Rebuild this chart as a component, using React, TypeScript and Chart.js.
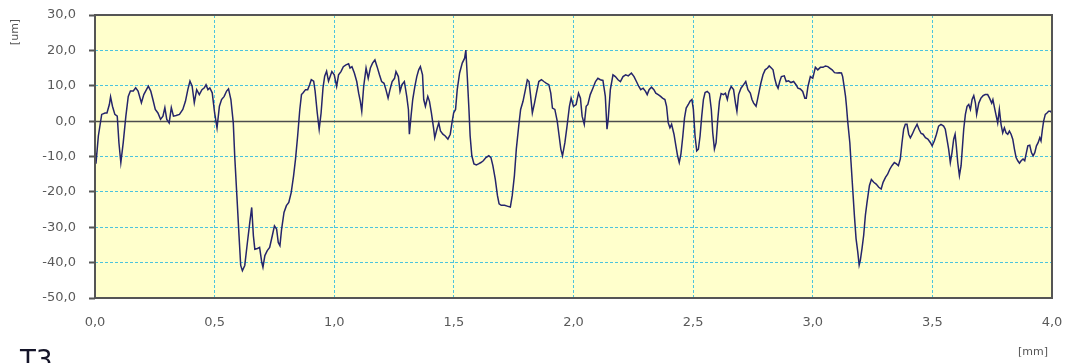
import React, { useEffect, useRef } from "react";
import { Chart, registerables } from "chart.js";

Chart.register(...registerables);

// Profile position along the trace [mm]
const positionMm: number[] = [
  0.000, 0.004, 0.014, 0.028, 0.042, 0.050, 0.060, 0.065, 0.073, 0.083, 0.093, 0.100, 0.108, 0.118, 0.129, 0.139,
  0.148, 0.160, 0.170, 0.180, 0.194, 0.204, 0.215, 0.223, 0.233, 0.242, 0.252, 0.263, 0.274, 0.284, 0.292, 0.300,
  0.310, 0.319, 0.328, 0.339, 0.353, 0.367, 0.378, 0.388, 0.397, 0.406, 0.415, 0.425, 0.436, 0.447, 0.457, 0.464,
  0.472, 0.480, 0.490, 0.500, 0.510, 0.520, 0.529, 0.540, 0.550, 0.558, 0.568, 0.578, 0.584, 0.593, 0.602, 0.609,
  0.616, 0.626, 0.637, 0.647, 0.655, 0.662, 0.668, 0.679, 0.688, 0.697, 0.702, 0.710, 0.720, 0.730, 0.741, 0.750,
  0.759, 0.766, 0.773, 0.780, 0.790, 0.800, 0.810, 0.820, 0.830, 0.838, 0.847, 0.856, 0.863, 0.870, 0.880, 0.889,
  0.897, 0.904, 0.914, 0.920, 0.929, 0.937, 0.945, 0.953, 0.960, 0.968, 0.976,
  0.990, 1.000, 1.010, 1.018, 1.028, 1.038, 1.049, 1.060, 1.066, 1.074, 1.084, 1.094, 1.102, 1.109, 1.115, 1.123,
  1.133, 1.142, 1.151, 1.160, 1.170, 1.179, 1.189, 1.198, 1.208, 1.216, 1.225, 1.233, 1.242, 1.252, 1.258, 1.268,
  1.275, 1.283, 1.293, 1.303, 1.310, 1.314, 1.321, 1.328, 1.337, 1.345, 1.353, 1.360, 1.369, 1.374, 1.381, 1.391,
  1.398, 1.406, 1.415, 1.420, 1.429, 1.437, 1.444, 1.454, 1.464, 1.475, 1.485, 1.492, 1.499, 1.507, 1.514, 1.524,
  1.535, 1.545, 1.550, 1.556, 1.563, 1.568, 1.575, 1.584, 1.594, 1.603, 1.613, 1.623, 1.634, 1.646, 1.655, 1.663,
  1.673, 1.682, 1.689, 1.698, 1.712, 1.726, 1.736, 1.744, 1.753, 1.761, 1.771, 1.779, 1.789, 1.799, 1.807, 1.814,
  1.821, 1.828, 1.837, 1.845, 1.855, 1.866, 1.876, 1.887, 1.897, 1.905, 1.912, 1.922, 1.932, 1.940, 1.947, 1.954,
  1.964, 1.973,
  1.983, 1.990, 2.000, 2.011, 2.021, 2.029, 2.036, 2.045, 2.053, 2.060, 2.070, 2.081, 2.092, 2.102, 2.112, 2.123,
  2.133, 2.140, 2.145, 2.154, 2.165, 2.175, 2.186, 2.196, 2.207, 2.218, 2.229, 2.242, 2.253, 2.263, 2.273, 2.281,
  2.291, 2.301, 2.308, 2.316, 2.326, 2.336, 2.344, 2.354, 2.364, 2.372, 2.382, 2.389, 2.396, 2.403, 2.410, 2.420,
  2.428, 2.435, 2.442, 2.449, 2.457, 2.464, 2.471, 2.480, 2.487, 2.495, 2.501, 2.508, 2.515, 2.522, 2.529, 2.536,
  2.543, 2.550, 2.559, 2.568, 2.576, 2.582, 2.589, 2.596, 2.603, 2.610, 2.617, 2.627, 2.635, 2.643, 2.650, 2.659,
  2.669, 2.677, 2.683, 2.690, 2.700, 2.711, 2.720, 2.729, 2.739, 2.746, 2.753, 2.763, 2.769, 2.776, 2.783, 2.792,
  2.801, 2.811, 2.818, 2.827, 2.834, 2.841, 2.848, 2.855, 2.862, 2.869, 2.881, 2.889, 2.899, 2.909, 2.920, 2.930,
  2.938, 2.948, 2.958, 2.967, 2.973, 2.980,
  2.990, 3.000, 3.011, 3.021, 3.032, 3.043, 3.053, 3.063, 3.071, 3.081, 3.091, 3.102, 3.111, 3.120, 3.125, 3.130,
  3.137, 3.141, 3.146, 3.155, 3.160, 3.167, 3.174, 3.181, 3.188, 3.194, 3.199, 3.206, 3.213, 3.220, 3.227, 3.237,
  3.245, 3.255, 3.265, 3.276, 3.286, 3.294, 3.304, 3.313, 3.322, 3.331, 3.341, 3.350, 3.358, 3.366, 3.373, 3.380,
  3.387, 3.394, 3.401, 3.408, 3.416, 3.425, 3.436, 3.444, 3.453, 3.461, 3.471, 3.481, 3.492, 3.499, 3.508, 3.517,
  3.526, 3.536, 3.547, 3.554, 3.561, 3.568, 3.575, 3.582, 3.589, 3.595, 3.600, 3.606, 3.613, 3.620, 3.625, 3.631,
  3.638, 3.645, 3.652, 3.659, 3.666, 3.673, 3.680, 3.685, 3.694, 3.703, 3.712, 3.721, 3.731, 3.739, 3.748, 3.753,
  3.760, 3.767, 3.773, 3.780, 3.787, 3.794, 3.801, 3.808, 3.815, 3.822, 3.829, 3.836, 3.843, 3.850, 3.857, 3.864,
  3.871, 3.879, 3.886, 3.893, 3.899, 3.907, 3.914, 3.921, 3.928, 3.935, 3.942, 3.949, 3.954, 3.960, 3.965, 3.972,
  3.979, 3.986, 3.993, 4.000,
];

// Surface height at each position [um]
const heightUm: number[] = [
  -9.0, -12.0, -4.2, 1.9, 2.3, 2.3, 4.7, 6.9, 4.2, 1.9, 1.4, -6.1, -11.7, -6.1, 1.4, 7.0,
  8.5, 8.5, 9.4, 8.5, 5.2, 7.5, 8.9, 9.9, 8.5, 6.1, 3.3, 2.3, 0.5, 1.4, 3.8, 0.5,
  -0.5, 3.8, 1.4, 1.6, 1.9, 3.3, 5.6, 8.9, 11.3, 9.9, 5.2, 8.9, 7.5, 8.9, 9.4, 10.3,
  8.9, 9.4, 8.0, 2.3, -1.9, 4.2, 6.1, 7.0, 8.5, 9.1, 6.1, -0.5, -9.9, -21.1, -32.4, -40.8,
  -42.3, -40.8, -34.3, -28.6, -24.4, -32.4, -36.2, -36.0, -35.7, -39.9, -41.3, -38.0, -36.6, -35.7, -32.4, -29.6,
  -30.5, -34.3, -35.2, -30.5, -25.8, -23.9, -23.0, -20.2, -15.5, -10.8, -4.2, 3.3, 7.5, 8.0, 8.9, 8.9,
  10.3, 11.7, 11.3, 8.5, 2.3, -2.3, 2.3, 9.4, 12.7, 14.1, 11.3,
  14.0, 13.1, 9.8, 13.1, 14.0, 15.4, 15.9, 16.2, 15.0, 15.4, 13.6, 11.2, 7.9, 5.6, 2.8, 9.8,
  15.0, 12.1, 15.0, 16.4, 17.3, 15.4, 13.1, 11.2, 10.7, 8.9, 6.5, 8.9, 11.2, 12.1, 14.0, 12.6,
  8.4, 10.3, 11.2, 7.0, 3.3, -3.7, 1.4, 6.1, 9.8, 12.6, 14.5, 15.4, 13.1, 6.1, 4.2, 7.0,
  5.6, 2.3, -1.9, -4.7, -2.3, -0.5, -2.8, -3.7, -4.2, -5.1, -3.7, -0.5, 2.3, 3.3, 8.9, 13.6,
  16.4, 17.8, 20.1, 12.6, 3.3, -4.2, -9.8, -12.1, -12.4, -12.1, -11.7, -11.2, -10.3, -9.8, -10.3, -12.6,
  -16.4, -21.0, -23.4, -23.8, -23.8, -24.1, -24.3, -21.0, -15.4, -7.9, -1.4, 3.3, 5.6, 8.9, 11.7, 11.2,
  7.0, 2.3, 5.1, 7.9, 11.2, 11.7, 11.2, 10.7, 10.3, 7.9, 3.7, 3.3, 0.0, -4.2, -7.9, -9.8,
  -6.1, -1.4,
  4.2, 6.5, 4.2, 4.7, 7.9, 6.5, 1.4, -0.9, 4.2, 4.7, 7.5, 9.3, 11.2, 12.1, 11.7, 11.5,
  7.0, -2.3, 0.5, 8.9, 13.1, 12.6, 11.7, 11.2, 12.6, 13.1, 12.8, 13.6, 12.6, 11.2, 9.8, 8.9,
  9.3, 8.4, 7.5, 8.9, 9.6, 8.9, 7.9, 7.5, 7.0, 6.5, 6.1, 4.2, -0.5, -1.9, -0.9, -3.7,
  -7.0, -9.8, -11.7, -9.3, -4.2, 0.9, 3.7, 4.7, 5.6, 6.1, 3.3, -4.2, -8.4, -7.9, -4.2, 1.4,
  6.1, 8.1, 8.4, 7.8, 3.3, -3.3, -7.9, -6.1, 0.5, 5.6, 7.8, 7.5, 7.9, 6.1, 8.4, 9.8,
  8.9, 5.1, 2.8, 7.5, 9.3, 10.3, 11.2, 8.9, 7.9, 6.1, 5.1, 4.2, 6.1, 8.4, 10.7, 13.1,
  14.5, 15.0, 15.6, 15.0, 14.5, 12.1, 10.3, 9.3, 11.2, 12.6, 12.8, 11.2, 11.4, 10.9, 11.2, 10.3,
  9.3, 9.1, 8.4, 6.5, 6.5, 9.8,
  12.6, 12.1, 15.2, 14.5, 15.2, 15.2, 15.6, 15.4, 15.0, 14.5, 13.7, 13.6, 13.7, 13.6, 12.6, 10.3,
  7.0, 4.2, 0.0, -6.1, -11.7, -19.2, -26.6, -33.2, -36.9, -40.7, -39.3, -36.0, -32.2, -26.6, -22.9, -18.2,
  -16.5, -17.3, -17.8, -18.7, -19.2, -17.3, -15.9, -15.0, -13.6, -12.6, -11.7, -12.1, -12.6, -10.7, -6.1, -2.3,
  -0.9, -0.9, -3.7, -4.7, -3.7, -2.3, -0.9, -2.3, -3.5, -3.7, -4.7, -5.1, -6.1, -7.0, -5.6, -3.7,
  -1.4, -0.9, -1.4, -2.3, -5.1, -7.9, -11.7, -8.9, -5.1, -3.7, -7.0, -11.7, -15.4, -12.6, -7.9, -2.3,
  1.9, 4.2, 4.7, 3.3, 6.1, 7.2, 5.1, 1.9, 5.1, 6.5, 7.2, 7.5, 7.5, 6.5, 5.1, 6.1,
  3.7, 1.4, -0.5, 3.3, -0.9, -3.3, -1.9, -3.3, -3.7, -2.8, -3.7, -5.1, -7.9, -10.3, -11.2, -11.9,
  -11.2, -10.7, -11.2, -8.9, -7.0, -6.8, -8.9, -9.8, -8.9, -7.0, -6.1, -4.7, -5.6, -2.3, 0.0, 1.9,
  2.3, 2.8, 2.8, 2.3,
];

// Axis ranges and tick spacing
const xRange: number[] = [0, 4];
const xStep = 0.5;
const yRange: number[] = [-50, 30];
const yStep = 10;

const xUnit = "[mm]";
const yUnit = "[um]";
const caption = "T3";

const decimalComma = (v: number | string) => Number(v).toFixed(1).replace(".", ",");

// Keep the plot frame fixed: drop the extra room Chart.js reserves for edge labels
const fixScale = (size: "width" | "height", value: number) => (scale: any) => {
  scale[size] = value;
  scale.paddingLeft = 0;
  scale.paddingRight = 0;
  scale.paddingTop = 0;
  scale.paddingBottom = 0;
};

const profilePlugin = {
  id: "profileDecor",
  beforeDraw(chart: any) {
    const { ctx, chartArea } = chart;
    ctx.save();
    ctx.fillStyle = "#ffffff";
    ctx.fillRect(0, 0, chart.width, chart.height);
    ctx.fillStyle = "#ffffcc";
    ctx.fillRect(chartArea.left, chartArea.top, chartArea.right - chartArea.left, chartArea.bottom - chartArea.top);
    ctx.restore();
  },
  beforeDatasetsDraw(chart: any) {
    // solid reference line at zero height
    const { ctx, chartArea, scales } = chart;
    const y0 = Math.round(scales.y.getPixelForValue(0)) + 0.5;
    ctx.save();
    ctx.strokeStyle = "#4d4d4d";
    ctx.lineWidth = 1.5;
    ctx.beginPath();
    ctx.moveTo(chartArea.left, y0);
    ctx.lineTo(chartArea.right, y0);
    ctx.stroke();
    ctx.restore();
  },
  afterDatasetsDraw(chart: any) {
    const { ctx, chartArea } = chart;
    ctx.save();
    ctx.strokeStyle = "#555555";
    ctx.lineWidth = 2;
    ctx.strokeRect(chartArea.left, chartArea.top, chartArea.right - chartArea.left, chartArea.bottom - chartArea.top);
    ctx.restore();
  },
  afterDraw(chart: any) {
    const { ctx, chartArea } = chart;
    ctx.save();
    ctx.fillStyle = "#555555";
    ctx.font = "11px 'DejaVu Sans'";
    ctx.textAlign = "center";
    ctx.textBaseline = "middle";
    // vertical unit label
    ctx.save();
    ctx.translate(15, chartArea.top + 17);
    ctx.rotate(-Math.PI / 2);
    ctx.fillText(yUnit, 0, 0);
    ctx.restore();
    // horizontal unit label
    ctx.fillText(xUnit, chartArea.right - 19, chartArea.bottom + 54);
    // caption below the chart
    ctx.fillStyle = "#141428";
    ctx.font = "26px 'DejaVu Sans'";
    ctx.textAlign = "left";
    ctx.textBaseline = "alphabetic";
    ctx.fillText(caption, 20, chart.height + 6);
    ctx.restore();
  },
};

export default function App() {
  const canvasRef = useRef<HTMLCanvasElement | null>(null);

  useEffect(() => {
    if (!canvasRef.current) return;
    const points = positionMm.map((x, i) => ({ x, y: heightUm[i] }));
    const gridColor = "rgba(45, 185, 225, 0.85)";

    const chart = new Chart(canvasRef.current, {
      type: "line",
      data: {
        datasets: [
          {
            data: points,
            borderColor: "#25256b",
            borderWidth: 1.5,
            pointRadius: 0,
            tension: 0,
            fill: false,
          },
        ],
      },
      options: {
        responsive: false,
        animation: false,
        maintainAspectRatio: false,
        layout: { padding: { left: 0, right: 16, top: 15, bottom: 0 } },
        plugins: {
          legend: { display: false },
          tooltip: { enabled: false },
          title: { display: false },
        },
        scales: {
          x: {
            type: "linear",
            min: xRange[0],
            max: xRange[1],
            afterFit: fixScale("height", 65),
            ticks: {
              stepSize: xStep,
              callback: (v: any) => decimalComma(v),
              color: "#5a5a5a",
              font: { family: "'DejaVu Sans'", size: 13 },
              padding: 17,
              maxRotation: 0,
              autoSkip: false,
            },
            grid: {
              color: gridColor,
              lineWidth: 1,
              drawTicks: false,
            },
            border: { display: false, dash: [3, 2] },
          },
          y: {
            type: "linear",
            min: yRange[0],
            max: yRange[1],
            afterFit: fixScale("width", 95),
            ticks: {
              stepSize: yStep,
              callback: (v: any) => decimalComma(v),
              color: "#5a5a5a",
              font: { family: "'DejaVu Sans'", size: 13 },
              padding: 13,
              autoSkip: false,
            },
            grid: {
              color: gridColor,
              lineWidth: 1,
              drawTicks: true,
              tickLength: 6,
              tickColor: "#555555",
              tickWidth: 2,
            },
            border: { display: false, dash: [3, 2] },
          },
        },
      },
      plugins: [profilePlugin],
    });

    return () => chart.destroy();
  }, []);

  return (
    <div style={{ position: "absolute", left: 0, top: 0, width: 1068, height: 363, background: "#ffffff" }}>
      <canvas ref={canvasRef} width={1068} height={363} style={{ display: "block" }} />
    </div>
  );
}
